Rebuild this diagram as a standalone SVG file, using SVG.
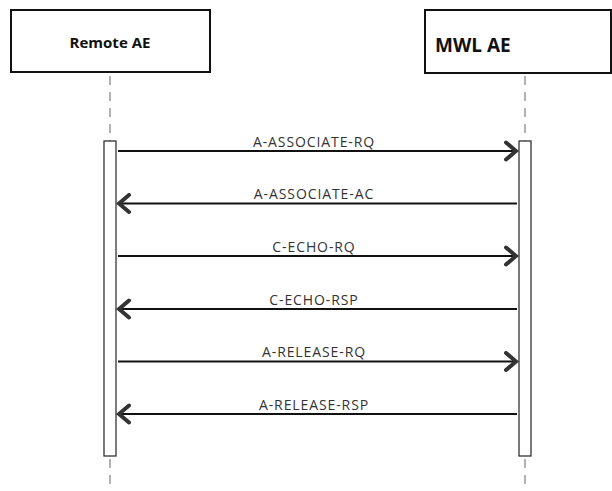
<svg xmlns="http://www.w3.org/2000/svg" width="612" height="491" viewBox="0 0 612 491">
<style>
.box{fill:#fff;stroke:#111;stroke-width:2}
.life{stroke:#999;stroke-width:1.5;stroke-dasharray:9,7;fill:none}
.bar{fill:#fff;stroke:#222;stroke-width:1.2}
.msg{stroke:#111;stroke-width:2;fill:none}
.lbl{font-family:"Open Sans","DejaVu Sans",sans-serif;font-size:14px;letter-spacing:0.9px;fill:#333;text-anchor:middle}
.name{font-family:"Open Sans","DejaVu Sans",sans-serif;font-weight:bold;fill:#111}
</style>
<defs>
<marker id="ah" viewBox="0 0 16 22" refX="14" refY="11" markerWidth="16" markerHeight="22" markerUnits="userSpaceOnUse" orient="auto">
<path d="M3,2.5 L13,11 L3,19.5" fill="none" stroke="#333" stroke-width="4" stroke-linecap="round" stroke-linejoin="miter"/>
</marker>
</defs>
<g id="remote-ae">
<rect class="box" x="11" y="10" width="199" height="62"/>
<text class="name" x="110" y="48" font-size="15" text-anchor="middle">Remote AE</text>
</g>
<g id="mwl-ae">
<rect class="box" x="425" y="10" width="186" height="63"/>
<text class="name" x="435" y="52" font-size="19">MWL AE</text>
</g>
<g id="lifelines">
<line class="life" x1="110" y1="76" x2="110" y2="141"/>
<line class="life" x1="110" y1="459" x2="110" y2="491"/>
<line class="life" x1="525" y1="76" x2="525" y2="141"/>
<line class="life" x1="525" y1="459" x2="525" y2="491"/>
<rect id="remote-bar" class="bar" x="104" y="141" width="12" height="315"/>
<rect id="mwl-bar" class="bar" x="519" y="141" width="12" height="315"/>
</g>
<g id="connectors">
<line class="msg" x1="118" y1="151" x2="517" y2="151" marker-end="url(#ah)"/>
<line class="msg" x1="517" y1="203.5" x2="118" y2="203.5" marker-end="url(#ah)"/>
<line class="msg" x1="118" y1="256" x2="517" y2="256" marker-end="url(#ah)"/>
<line class="msg" x1="517" y1="309" x2="118" y2="309" marker-end="url(#ah)"/>
<line class="msg" x1="118" y1="361.5" x2="517" y2="361.5" marker-end="url(#ah)"/>
<line class="msg" x1="517" y1="414" x2="118" y2="414" marker-end="url(#ah)"/>
<text class="lbl" x="314" y="147">A-ASSOCIATE-RQ</text>
<text class="lbl" x="314" y="199">A-ASSOCIATE-AC</text>
<text class="lbl" x="314" y="252">C-ECHO-RQ</text>
<text class="lbl" x="314" y="305">C-ECHO-RSP</text>
<text class="lbl" x="314" y="357">A-RELEASE-RQ</text>
<text class="lbl" x="314" y="410">A-RELEASE-RSP</text>
</g>
</svg>
